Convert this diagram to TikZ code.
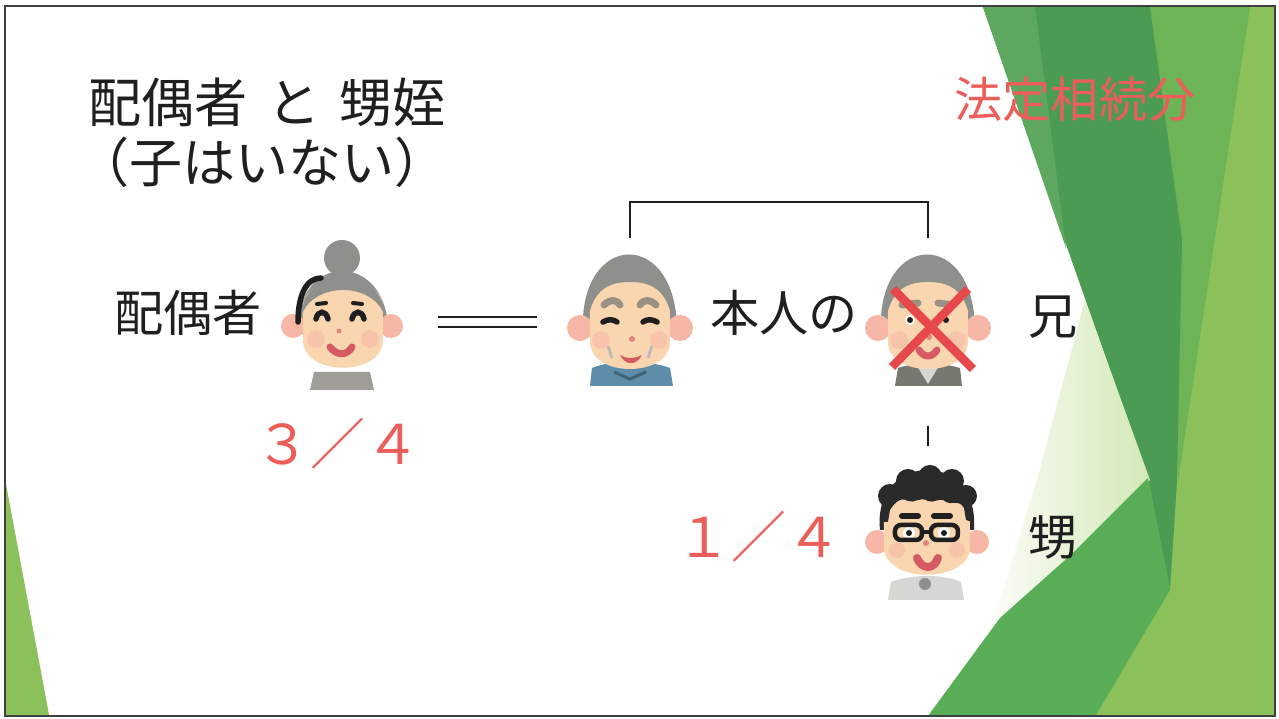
\documentclass[tikz,border=0pt]{standalone}
\usepackage{fontspec}
\setmainfont{Noto Sans CJK JP}

\definecolor{ink}{HTML}{1F1F1F}
\definecolor{framegray}{HTML}{3F3F3F}
\definecolor{share}{HTML}{EB5E5A}
\definecolor{leafA}{HTML}{8CC05A}
\definecolor{leafB}{HTML}{6DB456}
\definecolor{leafC}{HTML}{4C9B53}
\definecolor{leafD}{HTML}{5DA85E}
\definecolor{leafE}{HTML}{58AD56}
\definecolor{pale}{HTML}{D3E8B6}
\definecolor{skin}{HTML}{FAD6B0}
\definecolor{skinpink}{HTML}{F6B7A6}
\definecolor{grayhair}{HTML}{8F908B}
\definecolor{darkhair}{HTML}{2A2A2A}
\definecolor{lips}{HTML}{D55A62}
\definecolor{nosepink}{HTML}{E2857F}
\definecolor{browgray}{HTML}{9A9083}
\definecolor{coatgray}{HTML}{9E9D98}
\definecolor{shirtblue}{HTML}{5E8DA9}
\definecolor{suitgray}{HTML}{77786F}
\definecolor{shirtlight}{HTML}{D6D6D2}
\definecolor{crossred}{HTML}{E6484B}

\tikzset{
  frame/.style={draw=framegray, line width=0.25mm},
  heading/.style={font=\fontsize{15.1}{18}\selectfont, text=ink, inner sep=0pt},
  kin/.style={font=\fontsize{14}{17}\selectfont, text=ink, inner sep=0pt},
  legal/.style={font=\fontsize{13.7}{16}\selectfont, text=share, inner sep=0pt},
  portion/.style={font=\fontsize{15.6}{18}\selectfont, text=share, inner sep=0pt},
  face/.style={minimum width=16.6mm, minimum height=16.6mm, inner sep=0pt},
  tie/.style={draw=ink, line width=0.2mm},
  marriage/.style={draw=ink, line width=0.2mm, double=white, double distance=0.75mm},
  feature/.style={line width=0.55mm, line cap=round},
  blush/.style={fill=skinpink, fill opacity=0.55},
  % heads of the two old men
  old head/.pic={
    \fill[grayhair] (-47,12) .. controls (-53,-92) and (49,-96) .. (47,12) -- cycle;
    \fill[skinpink] (-50,6) circle (13) (50,6) circle (13);
    \fill[skin] (-40,-12) .. controls (-40,-52) and (40,-52) .. (40,-12)
      -- (40,20) .. controls (40,56) and (-40,56) .. (-40,20) -- cycle;
    \fill[grayhair] (-42,-4) .. controls (-44,-62) and (44,-62) .. (42,-4)
      .. controls (36,-32) and (22,-40) .. (0,-40) .. controls (-22,-40) and (-36,-32) .. cycle;
    \fill[blush] (-29,18) circle (9) (29,18) circle (9);
  },
  spouse face/.pic={
    \fill[coatgray] (-33,68) -- (-29,50) -- (27,50) -- (31,68) -- cycle;
    \fill[grayhair] (-1,-64) circle (18);
    \fill[grayhair] (-45,12) .. controls (-49,-72) and (47,-72) .. (45,12) -- cycle;
    \fill[skinpink] (-50,4) circle (12) (48,4) circle (12);
    \fill[skin] (-40,-15) .. controls (-40,-50) and (40,-50) .. (40,-15)
      -- (40,18) .. controls (40,55) and (-40,55) .. (-40,18) -- cycle;
    \fill[grayhair] (-41,-8) .. controls (-42,-55) and (42,-55) .. (41,-8)
      .. controls (28,-40) and (-28,-40) .. cycle;
    \fill[blush] (-27,17) circle (9) (27,17) circle (9);
    \draw[feature, ink] (-45,0) .. controls (-45,-28) and (-36,-44) .. (-22,-44);
    \draw[feature, ink] (-27,-3) .. controls (-25,-12) and (-17,-12) .. (-15,-3)
      (9,-3) .. controls (11,-12) and (19,-12) .. (21,-3);
    \draw[feature, ink, line width=0.4mm] (-26,-18) -- (-17,-19) (10,-19) -- (19,-18);
    \fill[nosepink] (-4,9) circle (2.5);
    \draw[feature, lips, line width=0.7mm] (-13,25) .. controls (-6,34) and (4,34) .. (9,25);
  },
  self face/.pic={
    \fill[shirtblue] (-40,64) -- (-38,46) .. controls (-20,38) and (20,38) .. (40,46) -- (43,64) -- cycle;
    \pic {old head};
    \draw[shirtblue!70!black, line width=0.3mm] (-16,50) -- (0,57) -- (16,50);
    \draw[feature, ink] (-27,0) .. controls (-22,-3) and (-17,-3) .. (-13,0)
      (13,0) .. controls (17,-3) and (22,-3) .. (27,0);
    \draw[feature, browgray, line width=0.7mm] (-26,-17) .. controls (-20,-23) and (-14,-23) .. (-10,-17)
      (10,-17) .. controls (14,-23) and (20,-23) .. (26,-17);
    \draw[browgray!60, line width=0.3mm] (-22,24) -- (-18,36) (22,24) -- (18,36);
    \fill[nosepink] (2,17) circle (3);
    \fill[lips] (-10,33) .. controls (-4,44) and (6,44) .. (12,33) .. controls (4,37) and (-4,37) .. cycle;
  },
  brother face/.pic={
    \fill[suitgray] (-33,64) -- (-30,46) .. controls (-12,40) and (12,40) .. (32,46) -- (34,64) -- cycle;
    \fill[shirtlight] (-11,44) -- (0,62) -- (11,44) -- cycle;
    \pic {old head};
    \fill[white] (-18,-2) circle (5);
    \fill[ink] (-18,-2) circle (3) (18,-2) circle (3);
    \draw[feature, browgray, line width=0.7mm] (-26,-17) -- (-10,-19) (10,-19) -- (26,-17);
    \fill[nosepink] (1,15) circle (3);
    \draw[feature, lips, line width=0.7mm] (-9,28) .. controls (-4,36) and (4,36) .. (9,28);
  },
  nephew face/.pic={
    \fill[shirtlight] (-40,68) -- (-37,50) .. controls (-15,42) and (15,42) .. (33,50) -- (36,68) -- cycle;
    \fill[grayhair] (-3,52) circle (6);
    \fill[skinpink] (-51,10) circle (12) (49,10) circle (12);
    \fill[darkhair] (-48,-2) .. controls (-56,-80) and (52,-84) .. (46,-2) -- cycle;
    \fill[darkhair] (-38,-36) circle (12) (-20,-51) circle (12) (2,-55) circle (12)
      (24,-51) circle (12) (38,-36) circle (11);
    \fill[skin] (-44,-18) .. controls (-44,-42) and (42,-42) .. (42,-18)
      -- (42,15) .. controls (42,52) and (-44,52) .. (-44,15) -- cycle;
    \fill[darkhair] (-46,-10) -- (-46,-40) -- (44,-40) -- (44,-10) -- (38,-12) -- (36,-24)
      .. controls (30,-34) and (22,-26) .. (18,-30) .. controls (12,-36) and (6,-28) .. (0,-31)
      .. controls (-8,-36) and (-14,-28) .. (-20,-31) .. controls (-28,-36) and (-34,-28) .. (-38,-22)
      -- (-40,-10) -- cycle;
    \fill[blush] (-31,18) circle (8) (29,18) circle (8);
    \draw[feature, ink, line width=0.6mm] (-26,-16) -- (-10,-16) (6,-16) -- (22,-16);
    \fill[white] (-19,1) circle (6) (16,1) circle (6);
    \fill[ink] (-19,1) circle (3) (16,1) circle (3);
    \draw[ink, line width=0.45mm, rounded corners=0.6mm] (-33,-7) rectangle (-6,8) (3,-7) rectangle (30,8);
    \draw[ink, line width=0.45mm] (-6,0) -- (3,0);
    \fill[nosepink] (-2,11) circle (3);
    \draw[feature, lips, line width=0.8mm] (-11,26) .. controls (-6,38) and (6,38) .. (10,26);
  }
}

\begin{document}
\begin{tikzpicture}[x=0.1mm,y=-0.1mm]
  \useasboundingbox (0,0) rectangle (1279,719);
  \fill[white] (0,0) rectangle (1279,719);
  % slide background
  \begin{scope}
    \clip (6,7) rectangle (1274,715);
    \fill[leafA] (983,7) -- (1280,7) -- (1280,720) -- (935,720) -- (1148,478) -- cycle;
    \fill[leafB] (1150,7) -- (1250,7) -- (1178,482) -- cycle;
    \fill[leafC] (983,7) -- (1150,7) -- (1182,240) -- (1177,482) -- (1170,590) -- (1148,478) -- cycle;
    \fill[leafD] (983,7) -- (1035,7) -- (1066,248) -- cycle;
    \shade[left color=white, right color=pale] (1085,300) -- (1150,480) -- (975,680) -- (1000,600) -- (1037,480) -- cycle;
    \fill[leafE] (1148,478) -- (1170,590) -- (1093,720) -- (925,720) -- (1000,618) -- (1073,553) -- cycle;
    \fill[leafA] (0,452) -- (50,720) -- (0,720) -- cycle;
  \end{scope}
  \draw[frame] (5,6) rectangle (1275,716);

  \node[heading, anchor=base west] (title) at (88,123) {配偶者\hspace{.36em}と\hspace{.36em}甥姪};
  \node[heading, anchor=base] (subtitle) at (262,183) {（子はいない）};
  \node[legal, anchor=base] (rule) at (1075,118) {法定相続分};

  % family members
  \node[face] (spouse) at (343,322) {};
  \node[face] (self) at (630,322) {};
  \node[face] (brother) at (928,322) {};
  \node[face] (nephew) at (928,532) {};
  \pic at (spouse) {spouse face};
  \pic at (self) {self face};
  \pic at (brother) {brother face};
  \pic at (nephew) {nephew face};
  % the brother has died
  \draw[crossred, line width=0.85mm] ([shift={(-35,-33)}]brother.center) -- ([shift={(45,47)}]brother.center)
    ([shift={(40,-33)}]brother.center) -- ([shift={(-36,45)}]brother.center);

  \node[kin, anchor=base] (spouselabel) at (188,332) {配偶者};
  \node[kin, anchor=base] (selflabel) at (784,332) {本人の};
  \node[kin, anchor=base] (brotherlabel) at (1053,335) {兄};
  \node[kin, anchor=base] (nephewlabel) at (1053,556) {甥};
  \node[portion, anchor=base] (spouseshare) at (338,465) {３／４};
  \node[portion, anchor=base] (nephewshare) at (759,558) {１／４};

  \draw[marriage, shorten <=1.1mm, shorten >=0.9mm] (spouse.east) -- (self.west);
  \draw[tie] (self.north) -- ++(0,-36) -| (brother.north);
  \draw[tie, shorten <=2mm, shorten >=0.2mm] (brother.south) -- (nephew.north);
\end{tikzpicture}
\end{document}
